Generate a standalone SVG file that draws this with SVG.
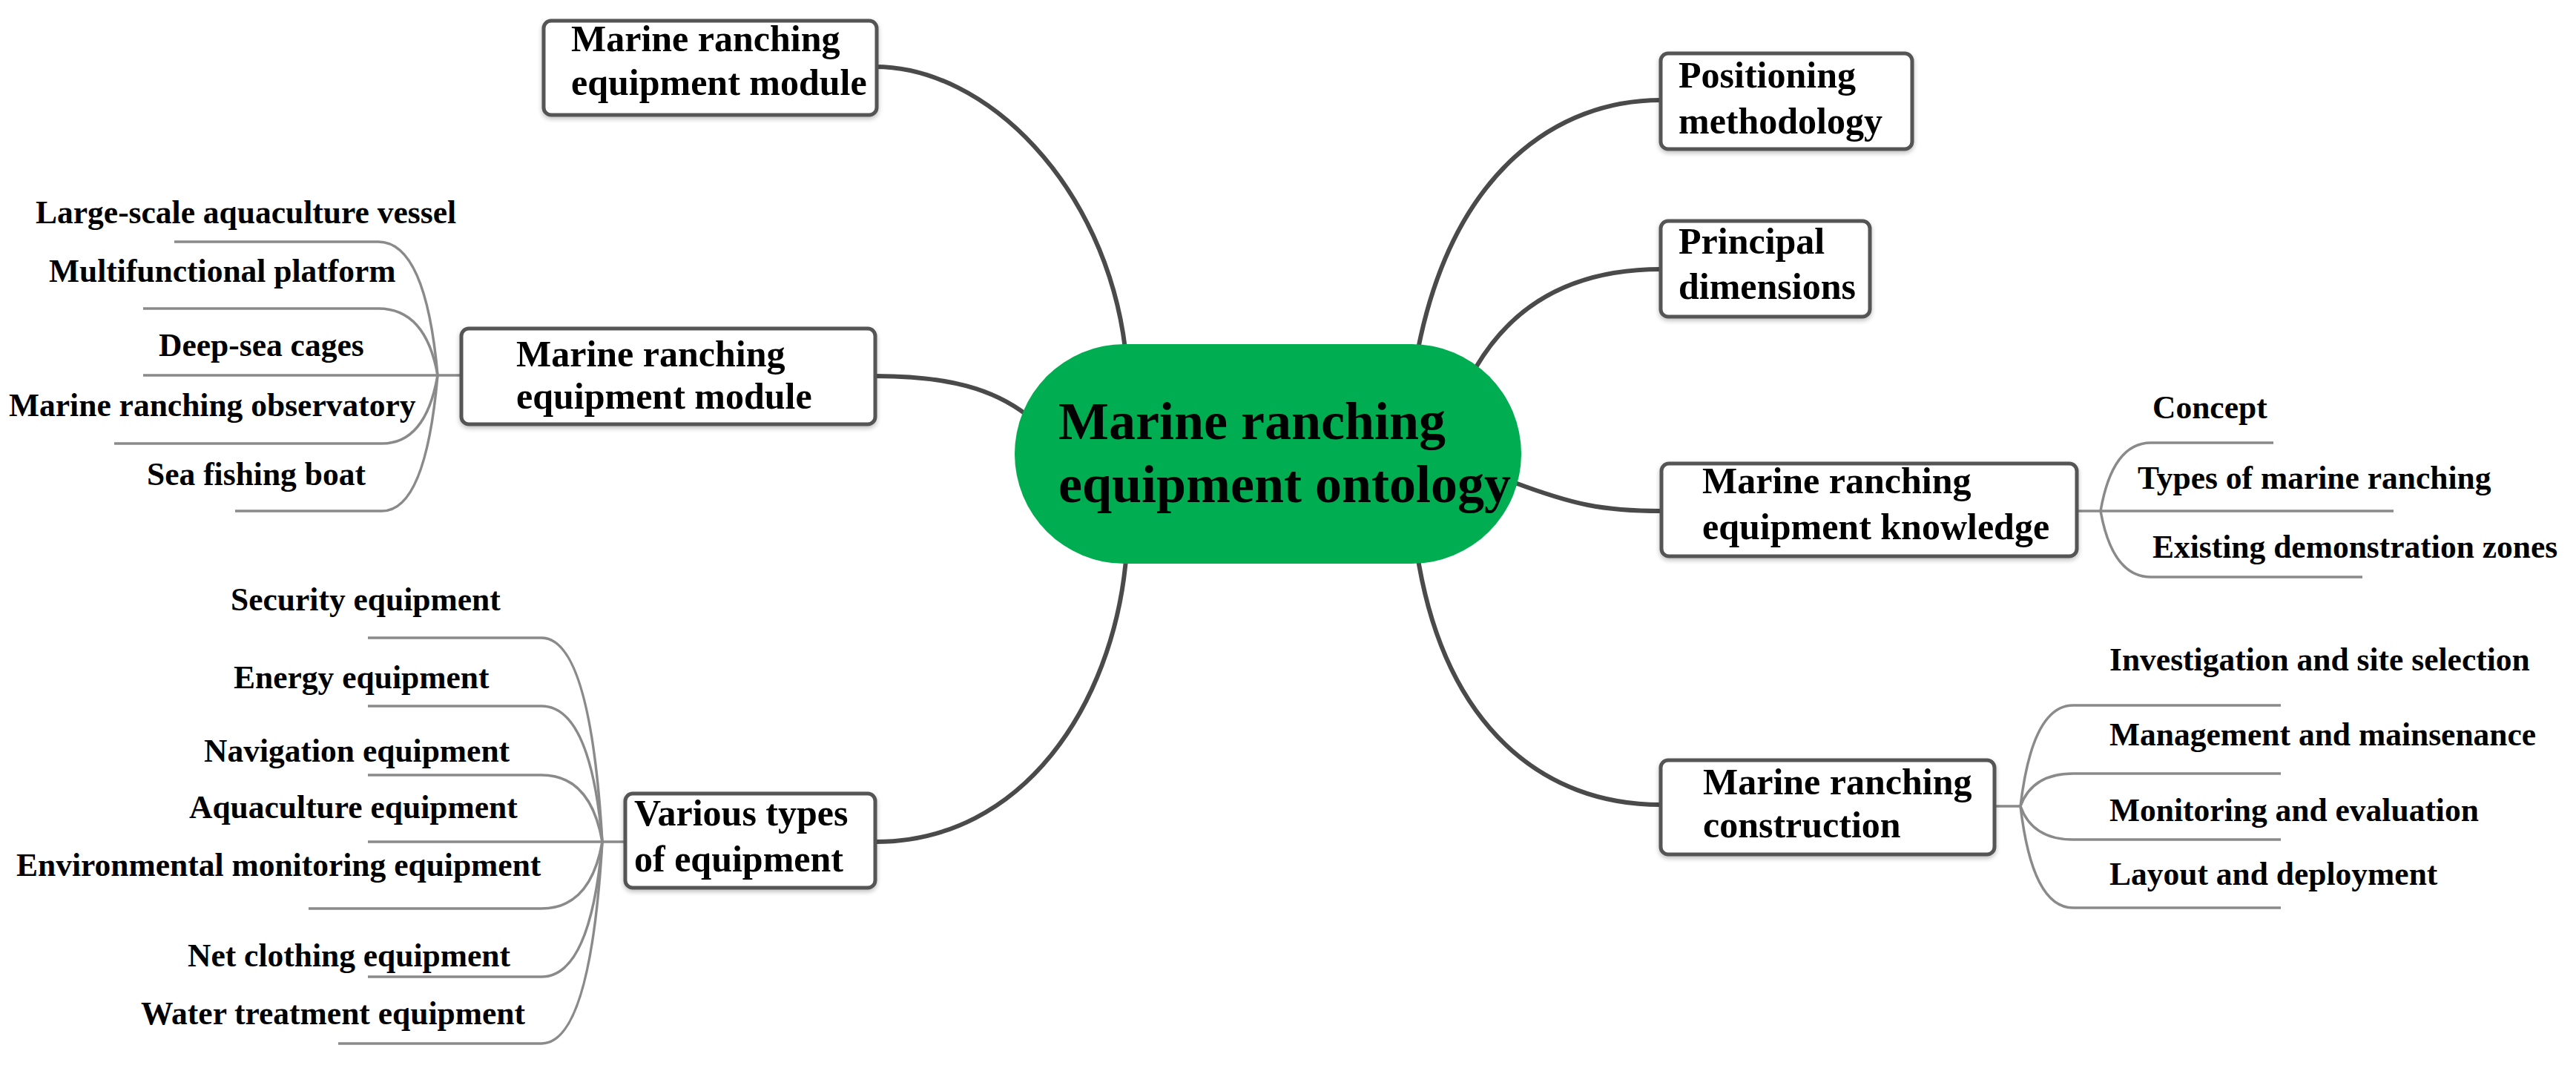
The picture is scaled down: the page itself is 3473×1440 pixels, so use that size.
<svg xmlns="http://www.w3.org/2000/svg" width="3473" height="1440" viewBox="0 0 3473 1440">
<style>
  text { font-family: "Liberation Serif", "Times New Roman", serif; font-weight: bold; fill: #000; }
  .node { font-size: 50px; }
  .leaf { font-size: 43.5px; }
  .center { font-size: 72px; }
  .box { fill: #fff; stroke: #555; stroke-width: 5; }
  .main { fill: none; stroke: #4a4a4a; stroke-width: 6; stroke-linecap: round; }
  .sub { fill: none; stroke: #8a8a8a; stroke-width: 3.5; }
</style>
<defs>
  <filter id="sh" x="-10%" y="-10%" width="120%" height="130%">
    <feGaussianBlur in="SourceAlpha" stdDeviation="3"/>
    <feOffset dx="0" dy="3" result="b"/>
    <feComponentTransfer><feFuncA type="linear" slope="0.25"/></feComponentTransfer>
    <feMerge><feMergeNode/><feMergeNode in="SourceGraphic"/></feMerge>
  </filter>
</defs>
<rect width="3473" height="1440" fill="#fff"/>

<g id="connectors">
  <path class="main" d="M1180,90 C1330,90 1490,250 1517,470"/>
  <path class="main" d="M1180,507 C1280,507 1340,525 1385,560"/>
  <path class="main" d="M1180,1135 C1380,1135 1500,950 1518,755"/>
  <path class="main" d="M2239,135 C2100,135 1960,230 1912,470"/>
  <path class="main" d="M2239,363 C2120,363 2040,410 1990,495"/>
  <path class="main" d="M2040,650 C2120,680 2160,689 2240,689"/>
  <path class="main" d="M1912,755 C1950,980 2080,1085 2239,1085"/>

  <!-- left group -->
  <path class="sub" d="M622,506 H590"/>
  <path class="sub" d="M590,506 Q574,326 510,326 H235"/>
  <path class="sub" d="M590,506 Q574,416 510,416 H193"/>
  <path class="sub" d="M590,506 H193"/>
  <path class="sub" d="M590,506 Q574,598 515,598 H154"/>
  <path class="sub" d="M590,506 Q574,689 515,689 H317"/>

  <!-- various group -->
  <path class="sub" d="M843,1135 H812"/>
  <path class="sub" d="M812,1135 Q796,860 730,860 H496"/>
  <path class="sub" d="M812,1135 Q796,952 730,952 H496"/>
  <path class="sub" d="M812,1135 Q796,1045 730,1045 H496"/>
  <path class="sub" d="M812,1135 H496"/>
  <path class="sub" d="M812,1135 Q796,1225 730,1225 H416"/>
  <path class="sub" d="M812,1135 Q796,1317 730,1317 H496"/>
  <path class="sub" d="M812,1135 Q796,1407 730,1407 H456"/>

  <!-- knowledge group -->
  <path class="sub" d="M2800,689 H2832"/>
  <path class="sub" d="M2832,689 Q2848,597 2900,597 H3065"/>
  <path class="sub" d="M2832,689 H3227"/>
  <path class="sub" d="M2832,689 Q2848,778 2900,778 H3185"/>

  <!-- construction group -->
  <path class="sub" d="M2689,1087 H2724"/>
  <path class="sub" d="M2724,1087 Q2740,951 2795,951 H3075"/>
  <path class="sub" d="M2724,1087 Q2740,1043 2795,1043 H3075"/>
  <path class="sub" d="M2724,1087 Q2740,1132 2795,1132 H3075"/>
  <path class="sub" d="M2724,1087 Q2740,1224 2795,1224 H3075"/>
</g>

<g id="center">
  <rect x="1368" y="464" width="683" height="296" rx="148" ry="148" fill="#00ad50"/>
  <text class="center" x="1427" y="592">Marine ranching</text>
  <text class="center" x="1427" y="677">equipment ontology</text>
</g>

<g id="module-top" filter="url(#sh)">
  <rect class="box" x="733" y="28" width="449" height="127" rx="10"/>
  <text class="node" x="770" y="69">Marine ranching</text>
  <text class="node" x="770" y="128">equipment module</text>
</g>

<g id="module-left" filter="url(#sh)">
  <rect class="box" x="622" y="443" width="558" height="129" rx="10"/>
  <text class="node" x="696" y="494">Marine ranching</text>
  <text class="node" x="696" y="551">equipment module</text>
</g>

<g id="various" filter="url(#sh)">
  <rect class="box" x="843" y="1070" width="337" height="127" rx="10"/>
  <text class="node" x="855" y="1113">Various types</text>
  <text class="node" x="855" y="1175">of equipment</text>
</g>

<g id="positioning" filter="url(#sh)">
  <rect class="box" x="2239" y="72" width="339" height="129" rx="10"/>
  <text class="node" x="2263" y="118">Positioning</text>
  <text class="node" x="2263" y="180">methodology</text>
</g>

<g id="principal" filter="url(#sh)">
  <rect class="box" x="2239" y="298" width="282" height="129" rx="10"/>
  <text class="node" x="2263" y="342">Principal</text>
  <text class="node" x="2263" y="403">dimensions</text>
</g>

<g id="knowledge" filter="url(#sh)">
  <rect class="box" x="2240" y="625" width="560" height="125" rx="10"/>
  <text class="node" x="2295" y="665">Marine ranching</text>
  <text class="node" x="2295" y="727">equipment knowledge</text>
</g>

<g id="construction" filter="url(#sh)">
  <rect class="box" x="2239" y="1025" width="450" height="127" rx="10"/>
  <text class="node" x="2296" y="1071">Marine ranching</text>
  <text class="node" x="2296" y="1129">construction</text>
</g>

<g id="leaves-module">
  <text class="leaf" x="48" y="301">Large-scale aquaculture vessel</text>
  <text class="leaf" x="66" y="380">Multifunctional platform</text>
  <text class="leaf" x="214" y="480">Deep-sea cages</text>
  <text class="leaf" x="12" y="561">Marine ranching observatory</text>
  <text class="leaf" x="198" y="654">Sea fishing boat</text>
</g>

<g id="leaves-various">
  <text class="leaf" x="311" y="823">Security equipment</text>
  <text class="leaf" x="315" y="928">Energy equipment</text>
  <text class="leaf" x="275" y="1027">Navigation equipment</text>
  <text class="leaf" x="255" y="1103">Aquaculture equipment</text>
  <text class="leaf" x="22" y="1181">Environmental monitoring equipment</text>
  <text class="leaf" x="253" y="1303">Net clothing equipment</text>
  <text class="leaf" x="190" y="1381">Water treatment equipment</text>
</g>

<g id="leaves-knowledge">
  <text class="leaf" x="2902" y="564">Concept</text>
  <text class="leaf" x="2882" y="659">Types of marine ranching</text>
  <text class="leaf" x="2902" y="752">Existing demonstration zones</text>
</g>

<g id="leaves-construction">
  <text class="leaf" x="2844" y="904">Investigation and site selection</text>
  <text class="leaf" x="2844" y="1005">Management and mainsenance</text>
  <text class="leaf" x="2844" y="1107">Monitoring and evaluation</text>
  <text class="leaf" x="2844" y="1193">Layout and deployment</text>
</g>
</svg>
